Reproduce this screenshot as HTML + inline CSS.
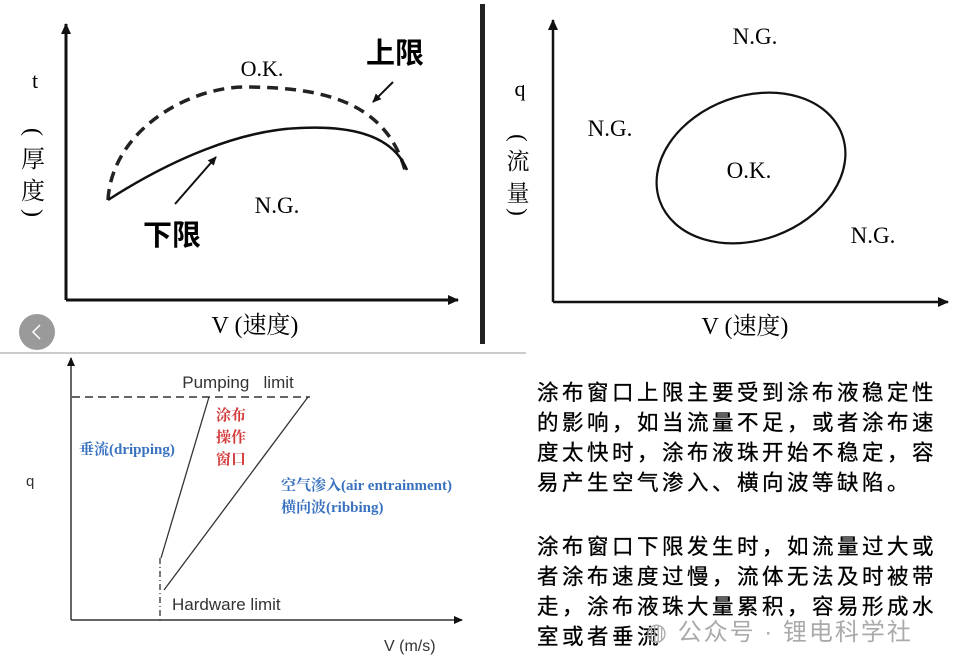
<!DOCTYPE html>
<html><head><meta charset="utf-8"><style>
html,body{margin:0;padding:0;background:#fff;width:955px;height:668px;overflow:hidden}
svg{position:absolute;left:0;top:0}
.ser{font-family:"Liberation Serif","Noto Serif CJK SC",serif}
.san{font-family:"Liberation Sans","Noto Sans CJK SC",sans-serif}
.txt{position:absolute;left:537px;font-family:"Liberation Sans","Noto Sans CJK SC",sans-serif;font-size:21.5px;letter-spacing:3.5px;line-height:30px;color:#000;white-space:nowrap;-webkit-text-stroke:0.3px #000}
</style></head><body>
<svg width="955" height="668" viewBox="0 0 955 668">
<defs>
<marker id="ah" markerWidth="10" markerHeight="10" refX="8" refY="5" orient="auto" markerUnits="userSpaceOnUse"><path d="M0,1 L9,5 L0,9 z" fill="#111"/></marker>
<marker id="ah2" markerWidth="12" markerHeight="12" refX="10" refY="6" orient="auto" markerUnits="userSpaceOnUse"><path d="M0,1 L11,6 L0,11 z" fill="#111"/></marker>
</defs>
<!-- top-left chart -->
<line x1="66" y1="300" x2="66" y2="24" stroke="#111" stroke-width="3" marker-end="url(#ah2)"/>
<line x1="66" y1="300" x2="458" y2="300" stroke="#111" stroke-width="3" marker-end="url(#ah2)"/>
<path d="M108,200 C112,130 190,85 250,87 C320,88 385,100 405,170" fill="none" stroke="#222" stroke-width="3.5" stroke-dasharray="11,7"/>
<path d="M108,200 C170,160 240,130 300,128 C360,125 395,140 407,170" fill="none" stroke="#111" stroke-width="2.5"/>
<line x1="175" y1="204" x2="216" y2="157" stroke="#111" stroke-width="2" marker-end="url(#ah)"/>
<line x1="393" y1="82" x2="373" y2="102" stroke="#111" stroke-width="2" marker-end="url(#ah)"/>
<text x="35" y="88" class="ser" font-size="22" text-anchor="middle">t</text>
<text x="33" y="132" class="ser" font-size="24" text-anchor="middle" transform="rotate(90 33 132)" dy="7">(</text>
<text x="33" y="167" class="ser" font-size="24" text-anchor="middle">厚</text>
<text x="33" y="199" class="ser" font-size="24" text-anchor="middle">度</text>
<text x="33" y="213" class="ser" font-size="24" text-anchor="middle" transform="rotate(90 33 213)" dy="7">)</text>
<text x="262" y="76" class="ser" font-size="22" text-anchor="middle">O.K.</text>
<text x="395" y="63" class="san" font-size="29" font-weight="bold" text-anchor="middle">上限</text>
<text x="172" y="245" class="san" font-size="29" font-weight="bold" text-anchor="middle">下限</text>
<text x="277" y="213" class="ser" font-size="23" text-anchor="middle">N.G.</text>
<text x="255" y="333" class="ser" font-size="24" text-anchor="middle">V (速度)</text>
<!-- divider -->
<rect x="480" y="4" width="5" height="340" fill="#222"/>
<!-- top-right chart -->
<line x1="553" y1="302" x2="553" y2="20" stroke="#111" stroke-width="2.5" marker-end="url(#ah2)"/>
<line x1="553" y1="302" x2="948" y2="302" stroke="#111" stroke-width="2.5" marker-end="url(#ah2)"/>
<ellipse cx="751" cy="168" rx="97" ry="72" transform="rotate(-20 751 168)" fill="none" stroke="#111" stroke-width="2.2"/>
<text x="520" y="96" class="ser" font-size="22" text-anchor="middle">q</text>
<text x="518" y="138" class="ser" font-size="23" text-anchor="middle" transform="rotate(90 518 138)" dy="7">(</text>
<text x="518" y="169" class="ser" font-size="23" text-anchor="middle">流</text>
<text x="518" y="201" class="ser" font-size="23" text-anchor="middle">量</text>
<text x="518" y="212" class="ser" font-size="23" text-anchor="middle" transform="rotate(90 518 212)" dy="7">)</text>
<text x="755" y="44" class="ser" font-size="23" text-anchor="middle">N.G.</text>
<text x="610" y="136" class="ser" font-size="23" text-anchor="middle">N.G.</text>
<text x="749" y="178" class="ser" font-size="23" text-anchor="middle">O.K.</text>
<text x="873" y="243" class="ser" font-size="23" text-anchor="middle">N.G.</text>
<text x="745" y="334" class="ser" font-size="24" text-anchor="middle">V (速度)</text>
<!-- nav circle -->
<circle cx="37" cy="332" r="18" fill="#9a9a9a"/>
<path d="M40,325 L33,332 L40,339" fill="none" stroke="#fff" stroke-width="1.5"/>
<line x1="0" y1="353" x2="526" y2="353" stroke="#bbb" stroke-width="1.5"/>
<!-- bottom-left chart -->
<line x1="71" y1="620" x2="71" y2="358" stroke="#333" stroke-width="1.5" marker-end="url(#ah)"/>
<line x1="71" y1="620" x2="462" y2="620" stroke="#333" stroke-width="1.5" marker-end="url(#ah)"/>
<line x1="72" y1="397" x2="310" y2="397" stroke="#333" stroke-width="1.5" stroke-dasharray="8,5"/>
<line x1="209" y1="397" x2="161" y2="558" stroke="#333" stroke-width="1.3"/>
<line x1="308" y1="397" x2="164" y2="590" stroke="#333" stroke-width="1.3"/>
<line x1="160" y1="558" x2="160" y2="620" stroke="#333" stroke-width="1.3" stroke-dasharray="6,3,1,3"/>
<text x="238" y="388" class="san" font-size="17" fill="#333" text-anchor="middle">Pumping&#160;&#160;&#160;limit</text>
<text x="172" y="610" class="san" font-size="17" fill="#333">Hardware limit</text>
<text x="384" y="651" class="san" font-size="16" fill="#333">V (m/s)</text>
<text x="26" y="486" class="san" font-size="15" fill="#333">q</text>
<g class="ser" font-size="15" font-weight="bold" fill="#d23a3a">
<text x="216" y="420">涂布</text><text x="216" y="442">操作</text><text x="216" y="464">窗口</text>
</g>
<g class="ser" font-size="15" font-weight="bold" fill="#3a72c0">
<text x="79" y="454">垂流(dripping)</text>
<text x="281" y="490">空气渗入(air entrainment)</text>
<text x="281" y="512">横向波(ribbing)</text>
</g>
</svg>
<div class="txt" style="top:378px">涂布窗口上限主要受到涂布液稳定性<br>的影响，如当流量不足，或者涂布速<br>度太快时，涂布液珠开始不稳定，容<br>易产生空气渗入、横向波等缺陷。</div>
<div class="txt" style="top:532px">涂布窗口下限发生时，如流量过大或<br>者涂布速度过慢，流体无法及时被带<br>走，涂布液珠大量累积，容易形成水<br>室或者垂流</div>
<div style="position:absolute;left:646px;top:612px;font-family:'Liberation Sans','Noto Sans CJK SC',sans-serif;font-size:24px;color:#aaa;letter-spacing:2px">◍ 公众号 · 锂电科学社</div>
</body></html>
